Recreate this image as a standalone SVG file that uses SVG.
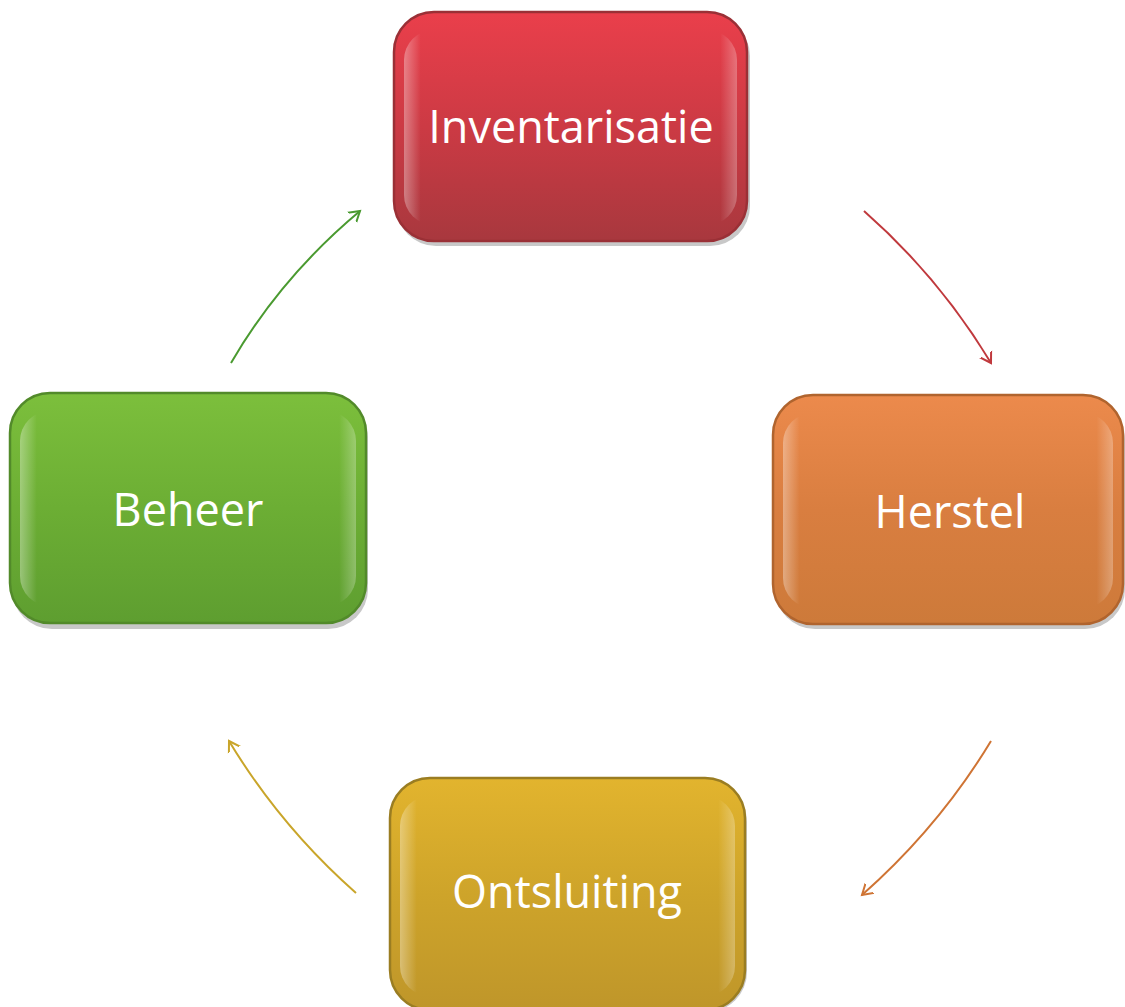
<svg xmlns="http://www.w3.org/2000/svg" width="1125" height="1007" viewBox="0 0 1125 1007">
<defs>
<linearGradient id="gRed" x1="0" y1="0" x2="0" y2="1">
<stop offset="0" stop-color="#ea3f4b"/><stop offset="0.5" stop-color="#cc3a44"/><stop offset="1" stop-color="#a8383e"/>
</linearGradient>
<linearGradient id="gOrange" x1="0" y1="0" x2="0" y2="1">
<stop offset="0" stop-color="#ec8a4c"/><stop offset="0.5" stop-color="#d97e40"/><stop offset="1" stop-color="#cd7a3a"/>
</linearGradient>
<linearGradient id="gYellow" x1="0" y1="0" x2="0" y2="1">
<stop offset="0" stop-color="#e2b42e"/><stop offset="0.5" stop-color="#cea42a"/><stop offset="1" stop-color="#bf962a"/>
</linearGradient>
<linearGradient id="gGreen" x1="0" y1="0" x2="0" y2="1">
<stop offset="0" stop-color="#7cbf3c"/><stop offset="0.5" stop-color="#6cae34"/><stop offset="1" stop-color="#5e9e30"/>
</linearGradient>
<linearGradient id="gShine" x1="0" y1="0" x2="1" y2="0">
<stop offset="0" stop-color="#ffffff" stop-opacity="0.35"/><stop offset="0.05" stop-color="#ffffff" stop-opacity="0"/><stop offset="0.95" stop-color="#ffffff" stop-opacity="0"/><stop offset="1" stop-color="#ffffff" stop-opacity="0.28"/>
</linearGradient>
<marker id="mRed" markerWidth="20" markerHeight="20" refX="10" refY="10" orient="auto" markerUnits="userSpaceOnUse"><path d="M-3,2 L10,10 L-3,18" fill="none" stroke="#c0393d" stroke-width="2"/></marker>
<marker id="mOrange" markerWidth="20" markerHeight="20" refX="10" refY="10" orient="auto" markerUnits="userSpaceOnUse"><path d="M-3,2 L10,10 L-3,18" fill="none" stroke="#cf7434" stroke-width="2"/></marker>
<marker id="mYellow" markerWidth="20" markerHeight="20" refX="10" refY="10" orient="auto" markerUnits="userSpaceOnUse"><path d="M-3,2 L10,10 L-3,18" fill="none" stroke="#c9a52a" stroke-width="2"/></marker>
<marker id="mGreen" markerWidth="20" markerHeight="20" refX="10" refY="10" orient="auto" markerUnits="userSpaceOnUse"><path d="M-3,2 L10,10 L-3,18" fill="none" stroke="#4a9a30" stroke-width="2"/></marker>
</defs>
<style>
.shadow{fill:#c8c8c8;}
.rim{stroke-width:2.5;}
.shine{fill:url(#gShine);}
.label{font-family:"Open Sans","Noto Sans","Liberation Sans",sans-serif;font-size:45px;fill:#ffffff;text-anchor:middle;}
.arc{fill:none;stroke-width:2;}
</style>
<rect width="1125" height="1007" fill="#ffffff"/>
<g id="connectors">
<path class="arc" d="M864,211 Q939,277 991,363" stroke="#c0393d" marker-end="url(#mRed)"/>
<path class="arc" d="M991,741 Q939,827 862,895" stroke="#cf7434" marker-end="url(#mOrange)"/>
<path class="arc" d="M356,893 Q281,827 229,741" stroke="#c9a52a" marker-end="url(#mYellow)"/>
<path class="arc" d="M231,363 Q281,277 360,211" stroke="#4a9a30" marker-end="url(#mGreen)"/>
</g>
<g id="node-inventarisatie">
<rect class="shadow" x="396" y="16" width="354" height="230" rx="40"/>
<rect x="394" y="12" width="353" height="229" rx="40" fill="url(#gRed)" stroke="#9a3036" class="rim"/>
<rect class="shine" x="404" y="30" width="333" height="195" rx="30"/>
<text class="label" x="571" y="143">Inventarisatie</text>
</g>
<g id="node-herstel">
<rect class="shadow" x="775" y="399" width="350" height="230" rx="40"/>
<rect x="773" y="395" width="350" height="229" rx="40" fill="url(#gOrange)" stroke="#b0642e" class="rim"/>
<rect class="shine" x="783" y="413" width="330" height="195" rx="30"/>
<text class="label" x="950" y="528">Herstel</text>
</g>
<g id="node-ontsluiting">
<rect class="shadow" x="392" y="782" width="355" height="230" rx="40"/>
<rect x="390" y="778" width="355" height="232" rx="40" fill="url(#gYellow)" stroke="#9a7d22" class="rim"/>
<rect class="shine" x="400" y="796" width="335" height="200" rx="30"/>
<text class="label" x="567" y="908">Ontsluiting</text>
</g>
<g id="node-beheer">
<rect class="shadow" x="12" y="397" width="356" height="232" rx="40"/>
<rect x="10" y="393" width="356" height="230" rx="40" fill="url(#gGreen)" stroke="#528a2a" class="rim"/>
<rect class="shine" x="20" y="411" width="336" height="195" rx="30"/>
<text class="label" x="188" y="526">Beheer</text>
</g>
</svg>
